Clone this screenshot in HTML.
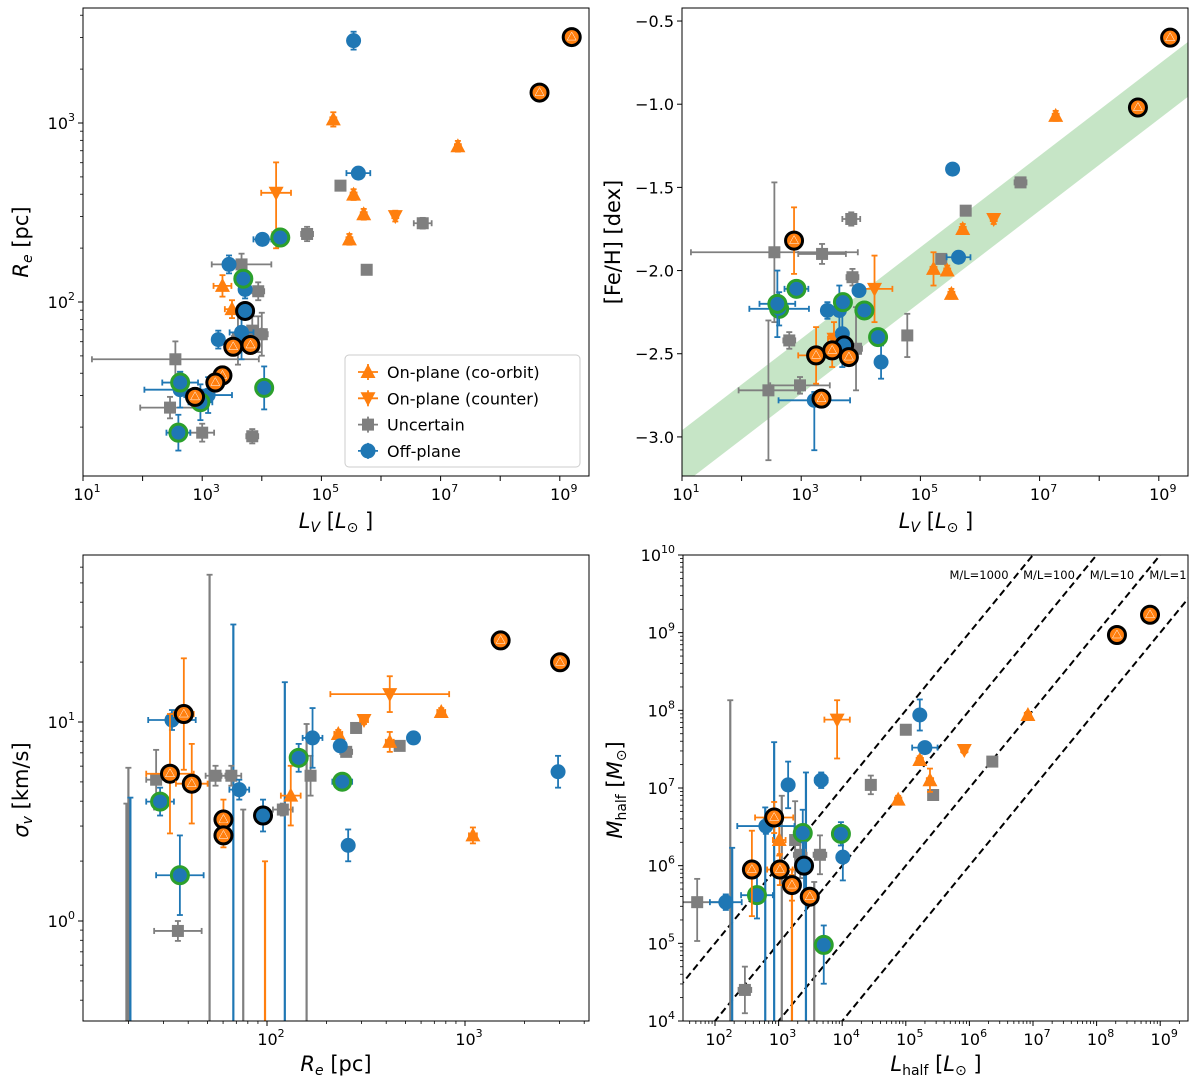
<!DOCTYPE html>
<html><head><meta charset="utf-8">
<style>
html,body{margin:0;padding:0;background:#fff;overflow:hidden;width:1200px;height:1092px;}
svg{display:block;font-family:"DejaVu Sans","Liberation Sans",sans-serif;}
</style></head>
<body>
<svg id="fig" width="1200" height="1092" viewBox="0 0 1200 1092" xmlns="http://www.w3.org/2000/svg"></svg>
<script>
// ===== DATA: [log x, y(log or linear), xerr(dex), yerr_lo, yerr_hi] =====
// Panel A: L_V vs R_e
const aCoOrbit=[[5.2,3.02,0.05,0.04,0.04],[7.29,2.87,0.05,0.03,0.03],[5.54,2.6,0.05,0.03,0.03],[5.71,2.49,0.05,0.03,0.03],[5.47,2.35,0.05,0.03,0.03],[3.34,2.09,0.15,0.06,0.06],[3.5,1.96,0.12,0.05,0.05]];
const aCounter=[[4.24,2.61,0.25,0.31,0.17],[6.24,2.48,0.05,0.03,0.03],[4.28,2.36,0.05,0.05,0.05]];
const aUncertain=[[5.32,2.65,0.05,0.02,0.02],[4.76,2.38,0.1,0.04,0.04],[6.7,2.44,0.15,0.03,0.03],[5.76,2.18,0.05,0.02,0.02],[3.66,2.21,0.5,0.06,0.06],[3.94,2.06,0.1,0.05,0.05],[3.84,1.84,0.15,0.08,0.08],[3.94,1.82,0.1,0.1,0.1],[4.0,1.82,0.1,0.12,0.12],[3.6,1.8,0.1,0.15,0.15],[2.55,1.68,1.4,0.1,0.1],[2.46,1.41,0.5,0.06,0.06],[3.0,1.27,0.2,0.05,0.05],[3.84,1.25,0.1,0.04,0.04]];
const aOff=[[5.54,3.46,0.05,0.05,0.05],[5.62,2.72,0.2,0.03,0.03],[4.01,2.35,0.15,0.03,0.03],[3.45,2.21,0.1,0.05,0.05],[3.72,2.07,0.05,0.05,0.05],[3.27,1.79,0.1,0.05,0.05],[3.66,1.83,0.2,0.15,0.12],[3.1,1.48,0.4,0.1,0.1],[2.63,1.51,0.6,0.1,0.1]];
const aOffBlack=[[3.72,1.95,0.05,0.04,0.04]];
const aOffGreen=[[3.69,2.13,0.1,0.04,0.04],[4.31,2.36,0.1,0.04,0.04],[2.63,1.55,0.3,0.06,0.06],[2.97,1.44,0.2,0.1,0.1],[4.04,1.52,0.05,0.12,0.12],[2.6,1.27,0.2,0.1,0.1]];
const aOrangeBlack=[[9.2,3.48,0.05,0.02,0.02],[8.66,3.17,0.05,0.02,0.02],[3.52,1.75,0.1,0.05,0.05],[3.81,1.76,0.1,0.05,0.05],[3.34,1.59,0.1,0.05,0.05],[3.22,1.55,0.1,0.05,0.05],[2.88,1.47,0.1,0.05,0.05]];
// Panel B: L_V vs [Fe/H]
const bCoOrbit=[[7.27,-1.07,0.05,0.03,0.03],[5.22,-1.99,0.05,0.1,0.1],[5.45,-2.0,0.05,0.03,0.03],[5.71,-1.75,0.05,0.03,0.03],[5.52,-2.14,0.05,0.03,0.03]];
const bCounter=[[6.23,-1.69,0.05,0.03,0.03],[4.23,-2.11,0.3,0.2,0.2],[3.55,-2.41,0.1,0.1,0.1]];
const bUncertain=[[6.68,-1.47,0.1,0.02,0.02],[5.76,-1.64,0.05,0.02,0.02],[5.35,-1.93,0.05,0.02,0.02],[3.84,-1.69,0.15,0.04,0.04],[3.35,-1.9,0.4,0.06,0.06],[2.55,-1.89,1.4,0.42,0.42],[3.86,-2.04,0.1,0.05,0.05],[4.78,-2.39,0.05,0.13,0.13],[2.45,-2.72,0.5,0.42,0.42],[2.98,-2.69,0.5,0.05,0.05],[2.8,-2.42,0.1,0.05,0.05],[3.92,-2.47,0.1,0.25,0.25]];
const bOff=[[5.54,-1.39,0.05,0.02,0.02],[5.64,-1.92,0.2,0.02,0.02],[4.34,-2.55,0.05,0.1,0.1],[3.97,-2.12,0.1,0.03,0.03],[3.64,-2.24,0.1,0.15,0.15],[3.44,-2.24,0.1,0.05,0.05],[3.22,-2.78,0.6,0.3,0.05],[3.69,-2.38,0.1,0.2,0.2]];
const bOffBlack=[[3.72,-2.45,0.05,0.05,0.05]];
const bOffGreen=[[2.92,-2.11,0.2,0.05,0.05],[3.7,-2.19,0.1,0.05,0.05],[4.06,-2.24,0.05,0.05,0.05],[4.29,-2.4,0.05,0.05,0.05],[2.63,-2.23,0.5,0.1,0.1],[2.6,-2.2,0.3,0.2,0.2]];
const bOrangeBlack=[[9.19,-0.6,0.05,0.02,0.02],[8.65,-1.02,0.05,0.02,0.02],[2.88,-1.82,0.05,0.2,0.2],[3.25,-2.51,0.3,0.17,0.17],[3.52,-2.48,0.1,0.1,0.1],[3.8,-2.52,0.1,0.05,0.05],[3.34,-2.77,0.1,0.05,0.05]];
const bandLeft=-2.96, bandSlope=0.275, bandWidth=0.33;
// Panel C: R_e vs sigma
const cCoOrbit=[[2.88,1.05,0.02,0.02,0.02],[2.36,0.94,0.02,0.02,0.02],[2.62,0.9,0.02,0.05,0.05],[2.12,0.63,0.05,0.15,0.15],[3.04,0.43,0.02,0.04,0.04]];
const cCounter=[[2.62,1.14,0.3,0.09,0.09],[2.49,1.01,0.02,0.02,0.02]];
const cUncertain=[[2.67,0.88,0.02,0.02,0.02],[2.45,0.97,0.02,0.02,0.02],[2.4,0.85,0.03,0.02,0.02],[2.22,0.73,0.02,0.1,0.1],[2.08,0.56,0.05,0.03,0.03],[1.74,0.73,0.05,0.05,0.05],[1.82,0.73,0.05,0.05,0.05],[1.44,0.71,0.05,0.15,0.15],[1.55,-0.05,0.12,0.05,0.05]];
const cOff=[[2.74,0.92,0.02,0.02,0.02],[2.23,0.92,0.05,0.15,0.15],[2.37,0.88,0.02,0.02,0.02],[1.86,0.66,0.05,0.05,0.05],[1.52,1.01,0.12,0.05,0.05],[2.41,0.38,0.02,0.08,0.08],[3.47,0.75,0.02,0.08,0.08]];
const cOffBlack=[[1.98,0.53,0.02,0.08,0.08]];
const cOffGreen=[[2.16,0.82,0.02,0.07,0.07],[2.38,0.7,0.05,0.04,0.04],[1.46,0.6,0.07,0.07,0.07],[1.56,0.23,0.12,0.2,0.2]];
const cOrangeBlack=[[3.18,1.41,0.01,0.01,0.01],[3.48,1.3,0.01,0.01,0.01],[1.58,1.04,0.05,0.28,0.28],[1.51,0.74,0.12,0.3,0.3],[1.62,0.69,0.08,0.2,0.2],[1.78,0.51,0.02,0.1,0.1],[1.78,0.43,0.02,0.06,0.06]];
// bars with markers off-axis: [log x, log top]
const cBarsGray=[[1.29,0.59],[1.30,0.77],[1.71,1.74],[1.88,0.56],[2.2,0.99]];
const cBarsBlue=[[1.31,0.62],[1.83,1.49],[2.09,1.2]];
const cBarsOrange=[[1.99,0.3]];
// Panel D: L_half vs M_half
const dCoOrbit=[[6.92,7.94,0.05,0.04,0.04],[5.22,7.36,0.05,0.05,0.05],[5.38,7.1,0.05,0.15,0.15],[4.88,6.85,0.05,0.05,0.05],[3.01,6.33,0.1,0.2,0.3]];
const dCounter=[[3.92,7.88,0.2,0.5,0.25],[5.92,7.49,0.05,0.04,0.04]];
const dUncertain=[[5.0,7.75,0.05,0.03,0.03],[4.45,7.04,0.05,0.12,0.12],[5.43,6.91,0.05,0.05,0.05],[6.36,7.34,0.05,0.03,0.03],[3.26,6.33,0.05,0.5,0.5],[3.34,6.14,0.1,0.3,0.3],[3.65,6.14,0.1,0.25,0.25],[1.72,5.53,0.4,0.5,0.3],[2.47,4.4,0.1,0.3,0.3]];
const dOff=[[5.22,7.94,0.05,0.2,0.2],[5.3,7.52,0.2,0.05,0.05],[3.67,7.1,0.1,0.1,0.1],[3.15,7.04,0.05,0.3,0.3],[2.8,6.51,0.45,0.1,0.1],[4.01,6.11,0.05,0.3,0.3],[2.17,5.53,0.25,0.1,0.1]];
const dOffBlack=[[3.40,6.0,0.05,0.4,0.3]];
const dOffGreen=[[3.38,6.42,0.05,0.3,0.3],[3.98,6.41,0.05,0.15,0.15],[2.66,5.62,0.25,0.3,0.3],[3.71,4.98,0.1,0.5,0.25]];
const dOrangeBlack=[[8.32,8.97,0.02,0.02,0.02],[8.84,9.23,0.02,0.02,0.02],[2.93,6.62,0.3,0.2,0.2],[2.58,5.95,0.1,0.6,0.5],[3.02,5.95,0.2,0.2,0.2],[3.21,5.75,0.05,0.2,0.2],[3.49,5.6,0.05,0.1,0.1]];
const dBarsGray=[[2.24,8.13],[3.05,6.9],[3.56,5.79]];
const dBarsBlue=[[2.27,6.23],[2.79,6.75],[2.93,7.59],[3.43,7.2]];
const dBarsOrange=[[3.21,5.88]];
const mlRatios=[1000,100,10,1];
const mlLabels=["M/L=1000","M/L=100","M/L=10","M/L=1"];

// ===== RENDERING =====
const NS="http://www.w3.org/2000/svg";
const svg=document.getElementById('fig');
const C={o:'#ff7f0e',b:'#1f77b4',g:'#7f7f7f',gr:'#2ca02c'};
function mk(tag,attrs,parent){const e=document.createElementNS(NS,tag);for(const k in attrs)e.setAttribute(k,attrs[k]);(parent||svg).appendChild(e);return e;}

function makePanel(id,L,T,R,B,xmin,xmax,ymin,ymax){
  const g=mk('g',{});
  
  
  const cp=mk('clipPath',{id:'cp-'+id},g);mk('rect',{x:L,y:T,width:R-L,height:B-T},cp);
  const plot=mk('g',{'clip-path':'url(#cp-'+id+')'},g);
  
  
  return {g,plot,L,T,R,B,sx:v=>L+(v-xmin)/(xmax-xmin)*(R-L),sy:v=>B-(v-ymin)/(ymax-ymin)*(B-T),xmin,xmax,ymin,ymax};
}
function frame(p){const r=mk('rect',{x:p.L,y:p.T,width:p.R-p.L,height:p.B-p.T,fill:'none',stroke:'#000','stroke-width':1},p.g);
  }
function powLabel(parent,x,y,exp,anchor){
  const t=mk('text',{x:x,y:y,'font-size':16,'text-anchor':anchor,fill:'#000'},parent);
  
  t.appendChild(document.createTextNode('10'));
  const s=mk('tspan',{'font-size':11,dy:-8},t);s.textContent=exp;
  return t;
}
function xLogTicks(p,labeled,minorSub){
  for(let d=Math.floor(p.xmin);d<=Math.ceil(p.xmax);d++){
    if(d>=p.xmin&&d<=p.xmax){const x=p.sx(d);mk('line',{x1:x,y1:p.B,x2:x,y2:p.B+5,stroke:'#000'},p.g);
      if(labeled.includes(d))powLabel(p.g,x+4,p.B+24,d,'middle');}
    if(minorSub)for(let k=2;k<10;k++){const v=d+Math.log10(k);if(v>p.xmin&&v<p.xmax){const x=p.sx(v);mk('line',{x1:x,y1:p.B,x2:x,y2:p.B+3,stroke:'#000','stroke-width':0.8},p.g);}}
  }
}
function yLogTicks(p,labeled,minorSub){
  for(let d=Math.floor(p.ymin);d<=Math.ceil(p.ymax);d++){
    if(d>=p.ymin&&d<=p.ymax){const y=p.sy(d);mk('line',{x1:p.L-5,y1:y,x2:p.L,y2:y,stroke:'#000'},p.g);
      if(labeled.includes(d))powLabel(p.g,p.L-8,y+6,d,'end');}
    if(minorSub)for(let k=2;k<10;k++){const v=d+Math.log10(k);if(v>p.ymin&&v<p.ymax){const y=p.sy(v);mk('line',{x1:p.L-3,y1:y,x2:p.L,y2:y,stroke:'#000','stroke-width':0.8},p.g);}}
  }
}
function marker(parent,shape,x,y,fill,ring){
  let e;
  if(shape==='c'){e=mk('circle',{cx:x,cy:y,r:7.5,fill:fill},parent);}
  else if(shape==='s'){e=mk('rect',{x:x-6,y:y-6,width:12,height:12,fill:fill},parent);}
  else if(shape==='u'){e=mk('polygon',{points:`${x},${y-8} ${x-7.5},${y+6} ${x+7.5},${y+6}`,fill:fill},parent);}
  else {e=mk('polygon',{points:`${x},${y+8} ${x-7.5},${y-6} ${x+7.5},${y-6}`,fill:fill},parent);}
  if(ring){mk('circle',{cx:x,cy:y,r:8.5,fill:fill==='#ff7f0e'?fill:'none',stroke:ring,'stroke-width':3},parent);
    if(fill==='#ff7f0e')mk('polygon',{points:`${x},${y-5} ${x-4.5},${y+3} ${x+4.5},${y+3}`,fill:fill,stroke:'#fff','stroke-width':0.5},parent);}
  return e;
}
function series(p,data,shape,color,ring,name){
  const grp=mk('g',{},p.plot);
  
  
  data.forEach(d=>{
    const x=p.sx(d[0]),y=p.sy(d[1]);
    const x1=p.sx(d[0]-d[2]),x2=p.sx(d[0]+d[2]);
    const y1=p.sy(d[1]-d[3]),y2=p.sy(d[1]+d[4]);
    const pt=mk('g',{},grp);
    
    
    const st={stroke:color,'stroke-width':1.8};
    mk('line',Object.assign({x1:x1,y1:y,x2:x2,y2:y},st),pt);
    mk('line',Object.assign({x1:x1,y1:y-3,x2:x1,y2:y+3},st),pt);
    mk('line',Object.assign({x1:x2,y1:y-3,x2:x2,y2:y+3},st),pt);
    mk('line',Object.assign({x1:x,y1:y1,x2:x,y2:y2},st),pt);
    mk('line',Object.assign({x1:x-3,y1:y1,x2:x+3,y2:y1},st),pt);
    mk('line',Object.assign({x1:x-3,y1:y2,x2:x+3,y2:y2},st),pt);
    marker(pt,shape,x,y,color,ring);
  });
}
function bars(p,data,color,name){
  const grp=mk('g',{},p.plot);
  
  
  data.forEach(d=>{const x=p.sx(d[0]),y=p.sy(d[1]);
    mk('line',{x1:x,y1:y,x2:x,y2:p.B+10,stroke:color,'stroke-width':2.2},grp);
    mk('line',{x1:x-3,y1:y,x2:x+3,y2:y,stroke:color,'stroke-width':1.8},grp);});
}
function allSeries(p,S){
  series(p,S.u,'s',C.g,null,'uncertain-series');
  series(p,S.co,'u',C.o,null,'co-orbit-series');
  series(p,S.ct,'d',C.o,null,'counter-series');
  series(p,S.off,'c',C.b,null,'off-plane-series');
  series(p,S.offG,'c',C.b,C.gr,'off-plane-green-ring-series');
  series(p,S.offK,'c',C.b,'#000','off-plane-black-ring-series');
  series(p,S.oK,'c',C.o,'#000','on-plane-black-ring-series');
}
function text(s,x,y,size,anchor,name,rot,parent){
  const t=mk('text',{x:x,y:y,'font-size':size,'text-anchor':anchor||'middle',fill:'#000'},parent);
  if(rot)t.setAttribute('transform',`rotate(-90 ${x} ${y})`);
  
  t.innerHTML=s;return t;
}

// Panel A
const pA=makePanel('panel-re-vs-lv',83,8,589,476,1,1+506/59.6,2+(302-476)/179,2+(302-8)/179);
allSeries(pA,{u:aUncertain,co:aCoOrbit,ct:aCounter,off:aOff,offG:aOffGreen,offK:aOffBlack,oK:aOrangeBlack});
frame(pA);xLogTicks(pA,[1,3,5,7,9],false);yLogTicks(pA,[2,3],true);
text('<tspan font-style="italic">L</tspan><tspan font-style="italic" font-size="14" dy="4">V</tspan><tspan dy="-4"> [</tspan><tspan font-style="italic">L</tspan><tspan font-size="14" dy="4">⊙</tspan><tspan dy="-4"> ]</tspan>',336,528,21,'middle','x-axis-title-a',false,pA.g);
text('<tspan font-style="italic">R</tspan><tspan font-style="italic" font-size="14" dy="4">e</tspan><tspan dy="-4"> [pc]</tspan>',28,242,21,'middle','y-axis-title-a',true,pA.g);
// legend
const lg=mk('g',{},pA.g);
mk('rect',{x:345,y:355,width:235,height:112,rx:4,fill:'#fff',stroke:'#ccc','fill-opacity':0.85},lg);
const legItems=[['u',C.o,'On-plane (co-orbit)'],['d',C.o,'On-plane (counter)'],['s',C.g,'Uncertain'],['c',C.b,'Off-plane']];
legItems.forEach((it,i)=>{const y=372+i*26.3;const e=mk('g',{},lg);
  
  mk('line',{x1:358,y1:y,x2:378,y2:y,stroke:it[1],'stroke-width':1.8},e);
  mk('line',{x1:368,y1:y-8,x2:368,y2:y+8,stroke:it[1],'stroke-width':1.8},e);
  marker(e,it[0],368,y,it[1],null);
  const t=mk('text',{x:387,y:y+6,'font-size':16,fill:'#000'},e);t.textContent=it[2];});

// Panel B
const pB=makePanel('panel-feh-vs-lv',682,8,1188,476,1,1+506/59.6,-3.0-(476-437)/166,-0.5+(21-8)/166);
const band=mk('polygon',{points:[[1,bandLeft],[10,bandLeft+9*bandSlope],[10,bandLeft+9*bandSlope-bandWidth],[1,bandLeft-bandWidth]].map(q=>pB.sx(q[0])+','+pB.sy(q[1])).join(' '),fill:C.gr,'fill-opacity':0.27},pB.plot);

allSeries(pB,{u:bUncertain,co:bCoOrbit,ct:bCounter,off:bOff,offG:bOffGreen,offK:bOffBlack,oK:bOrangeBlack});
frame(pB);xLogTicks(pB,[1,3,5,7,9],false);
[-3.0,-2.5,-2.0,-1.5,-1.0,-0.5].forEach(v=>{const y=pB.sy(v);mk('line',{x1:pB.L-5,y1:y,x2:pB.L,y2:y,stroke:'#000'},pB.g);
  text('−'+Math.abs(v).toFixed(1),pB.L-8,y+6,16,'end','tick-label',false,pB.g);});
text('<tspan font-style="italic">L</tspan><tspan font-style="italic" font-size="14" dy="4">V</tspan><tspan dy="-4"> [</tspan><tspan font-style="italic">L</tspan><tspan font-size="14" dy="4">⊙</tspan><tspan dy="-4"> ]</tspan>',936,528,21,'middle','x-axis-title-b',false,pB.g);
text('[Fe/H] [dex]',620,242,21,'middle','y-axis-title-b',true,pB.g);

// Panel C
const pC=makePanel('panel-sigma-vs-re',83,555,589,1021,2-184/198,3+124/198,-100/199,1+167/199);
bars(pC,cBarsGray,C.g,'uncertain-long-errorbars');bars(pC,cBarsBlue,C.b,'off-plane-long-errorbars');bars(pC,cBarsOrange,C.o,'on-plane-long-errorbars');
allSeries(pC,{u:cUncertain,co:cCoOrbit,ct:cCounter,off:cOff,offG:cOffGreen,offK:cOffBlack,oK:cOrangeBlack});
frame(pC);xLogTicks(pC,[2,3],true);yLogTicks(pC,[0,1],true);
text('<tspan font-style="italic">R</tspan><tspan font-style="italic" font-size="14" dy="4">e</tspan><tspan dy="-4"> [pc]</tspan>',336,1071,21,'middle','x-axis-title-c',false,pC.g);
text('<tspan font-style="italic">σ</tspan><tspan font-style="italic" font-size="14" dy="4">v</tspan><tspan dy="-4"> [km/s]</tspan>',28,790,21,'middle','y-axis-title-c',true,pC.g);

// Panel D
const pD=makePanel('panel-mhalf-vs-lhalf',683,555,1188,1021,2-32/63.6,2+473/63.6,4,10);
mlRatios.forEach((r,i)=>{const lr=Math.log10(r);
  const l=mk('line',{x1:pD.sx(1),y1:pD.sy(1+lr),x2:pD.sx(10),y2:pD.sy(10+lr),stroke:'#000','stroke-width':2,'stroke-dasharray':'7,4'},pD.plot);
  });
const mlx=[979,1049,1112,1168];
mlLabels.forEach((s,i)=>{text(s,mlx[i],579,11.5,'middle','ml-label',false,pD.g);});
bars(pD,dBarsGray,C.g,'uncertain-long-errorbars');bars(pD,dBarsBlue,C.b,'off-plane-long-errorbars');bars(pD,dBarsOrange,C.o,'on-plane-long-errorbars');
allSeries(pD,{u:dUncertain,co:dCoOrbit,ct:dCounter,off:dOff,offG:dOffGreen,offK:dOffBlack,oK:dOrangeBlack});
frame(pD);xLogTicks(pD,[2,3,4,5,6,7,8,9],true);yLogTicks(pD,[4,5,6,7,8,9,10],true);
text('<tspan font-style="italic">L</tspan><tspan font-size="14" dy="4">half</tspan><tspan dy="-4"> [</tspan><tspan font-style="italic">L</tspan><tspan font-size="14" dy="4">⊙</tspan><tspan dy="-4"> ]</tspan>',936,1071,21,'middle','x-axis-title-d',false,pD.g);
text('<tspan font-style="italic">M</tspan><tspan font-size="14" dy="4">half</tspan><tspan dy="-4"> [</tspan><tspan font-style="italic">M</tspan><tspan font-size="14" dy="4">⊙</tspan><tspan dy="-4">]</tspan>',622,790,21,'middle','y-axis-title-d',true,pD.g);
</script>
</body></html>
